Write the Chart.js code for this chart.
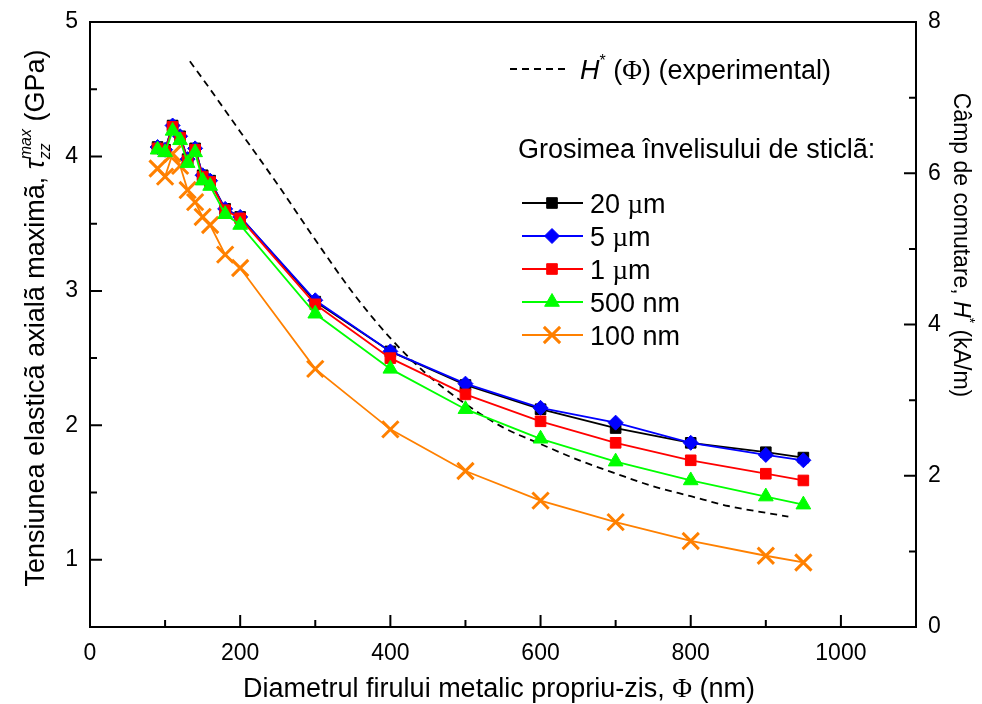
<!DOCTYPE html>
<html>
<head>
<meta charset="utf-8">
<script src="https://cdn.jsdelivr.net/npm/chart.js@4.4.1/dist/chart.umd.min.js"></script>
<style>
  html, body { margin: 0; padding: 0; background: #fff; }
  #wrap { width: 982px; height: 704px; }
</style>
</head>
<body>
<div id="wrap"><canvas id="chart" width="982" height="704"></canvas></div>
<script>
// Diameter of the metallic core (nm)
const diameters = [90, 100, 110, 120, 130, 140, 150, 160, 180, 200, 300, 400, 500, 600, 700, 800, 900, 950];

// Max axial elastic stress (GPa) per glass-coating thickness
const stress20um  = [4.07, 4.05, 4.23, 4.15, 3.98, 4.06, 3.86, 3.82, 3.61, 3.55, 2.92, 2.55, 2.30, 2.12, 1.98, 1.87, 1.80, 1.76];
const stress5um   = [4.07, 4.05, 4.23, 4.15, 3.98, 4.06, 3.86, 3.82, 3.61, 3.55, 2.93, 2.55, 2.31, 2.13, 2.02, 1.87, 1.78, 1.74];
const stress1um   = [4.06, 4.04, 4.22, 4.14, 3.97, 4.05, 3.85, 3.81, 3.60, 3.54, 2.90, 2.50, 2.23, 2.03, 1.87, 1.74, 1.64, 1.59];
const stress500nm = [4.05, 4.03, 4.19, 4.12, 3.95, 4.03, 3.82, 3.78, 3.57, 3.49, 2.83, 2.42, 2.12, 1.90, 1.73, 1.59, 1.47, 1.41];
const stress100nm = [3.91, 3.85, 4.02, 3.93, 3.75, 3.66, 3.55, 3.49, 3.27, 3.17, 2.42, 1.97, 1.66, 1.44, 1.28, 1.14, 1.03, 0.98];

// Experimental switching field H*(Phi), kA/m
const expDiameters = [133, 150, 200, 250, 300, 350, 400, 450, 500, 550, 600, 650, 700, 750, 800, 850, 900, 930];
const expField     = [7.48, 7.25, 6.55, 5.85, 5.12, 4.42, 3.82, 3.33, 2.95, 2.64, 2.42, 2.21, 2.03, 1.86, 1.73, 1.60, 1.51, 1.46];

// Axis ticks
const xTickValues = [0, 200, 400, 600, 800, 1000];
const xMinorValues = [100, 300, 500, 700, 900];
const yTickValues = [1, 2, 3, 4, 5];
const yMinorValues = [1.5, 2.5, 3.5, 4.5];
const y2TickValues = [0, 2, 4, 6, 8];
const y2MinorValues = [1, 3, 5, 7];

const seriesLabels = ['20 \u00b5m', '5 \u00b5m', '1 \u00b5m', '500 nm', '100 nm'];

const SANS = 'Liberation Sans, Arial, sans-serif';
const SERIF = 'Liberation Serif, Times New Roman, serif';
const BIG = 27;

function pts(xs, ys) {
    return xs.map((x, i) => ({ x: x, y: ys[i] }));
}

function series(label, ys, color, style, radius, order, pbw) {
    return {
        label: label,
        data: pts(diameters, ys),
        borderColor: color,
        backgroundColor: color,
        borderWidth: 1.8,
        pointStyle: style,
        pointRadius: radius,
        pointBackgroundColor: color,
        pointBorderColor: color,
        pointBorderWidth: pbw,
        yAxisID: 'y',
        order: order
    };
}

const datasets = [
    series(seriesLabels[0], stress20um, '#000000', 'rect', 7.5, 3, 1),
    series(seriesLabels[1], stress5um, '#0000ff', 'rectRot', 7.5, 2, 1),
    series(seriesLabels[2], stress1um, '#ff0000', 'rect', 7.5, 1, 1),
    series(seriesLabels[3], stress500nm, '#00ff00', 'triangle', 8.5, 0, 1),
    series(seriesLabels[4], stress100nm, '#ff8000', 'crossRot', 11.5, 4, 3),
    {
        label: 'H* (\u03a6) (experimental)',
        data: pts(expDiameters, expField),
        borderColor: '#000000',
        borderWidth: 1.8,
        borderDash: [7, 5],
        pointRadius: 0,
        cubicInterpolationMode: 'monotone',
        yAxisID: 'y2',
        order: 5
    }
];

// Text with italic letters, superscripts and subscripts
function drawRich(ctx, segs, x, y, align) {
    const widths = segs.map(s => {
        ctx.font = s.font;
        if (s.stack) return Math.max(ctx.measureText(s.stack[0]).width, ctx.measureText(s.stack[1]).width);
        return ctx.measureText(s.t).width;
    });
    const total = widths.reduce((a, b) => a + b, 0);
    let cx = align === 'center' ? x - total / 2 : x;
    ctx.textAlign = 'left';
    ctx.textBaseline = 'alphabetic';
    segs.forEach((s, i) => {
        ctx.font = s.font;
        if (s.stack) {
            ctx.fillText(s.stack[0], cx, y + s.dyTop);
            ctx.fillText(s.stack[1], cx, y + s.dyBot);
        } else {
            ctx.fillText(s.t, cx, y + (s.dy || 0));
        }
        cx += widths[i];
    });
}

const frameAndText = {
    id: 'frameAndText',
    afterDraw(chart) {
        const { ctx, chartArea: a, scales } = chart;
        ctx.save();
        ctx.strokeStyle = '#000';
        ctx.fillStyle = '#000';
        ctx.lineWidth = 2;
        ctx.strokeRect(a.left, a.top, a.right - a.left, a.bottom - a.top);

        // inward ticks
        ctx.beginPath();
        xTickValues.forEach(v => { const p = scales.x.getPixelForValue(v); ctx.moveTo(p, a.bottom); ctx.lineTo(p, a.bottom - 12); });
        xMinorValues.forEach(v => { const p = scales.x.getPixelForValue(v); ctx.moveTo(p, a.bottom); ctx.lineTo(p, a.bottom - 7); });
        yTickValues.forEach(v => { const p = scales.y.getPixelForValue(v); ctx.moveTo(a.left, p); ctx.lineTo(a.left + 12, p); });
        yMinorValues.forEach(v => { const p = scales.y.getPixelForValue(v); ctx.moveTo(a.left, p); ctx.lineTo(a.left + 7, p); });
        y2TickValues.forEach(v => { const p = scales.y2.getPixelForValue(v); ctx.moveTo(a.right, p); ctx.lineTo(a.right - 12, p); });
        y2MinorValues.forEach(v => { const p = scales.y2.getPixelForValue(v); ctx.moveTo(a.right, p); ctx.lineTo(a.right - 7, p); });
        ctx.stroke();

        // axis titles
        drawRich(ctx, [
            { t: 'Diametrul firului metalic propriu-zis, ', font: BIG + 'px ' + SANS },
            { t: '\u03a6', font: BIG + 'px ' + SERIF },
            { t: ' (nm)', font: BIG + 'px ' + SANS }
        ], 499, 697, 'center');

        ctx.save();
        ctx.translate(44, 318);
        ctx.rotate(-Math.PI / 2);
        drawRich(ctx, [
            { t: 'Tensiunea elastic\u00e3 axial\u00e3 maxim\u00e3, ', font: BIG + 'px ' + SANS },
            { t: '\u03c4', font: 'italic ' + BIG + 'px ' + SANS },
            { stack: ['max', 'zz'], font: 'italic 16px ' + SANS, dyTop: -13, dyBot: 6 },
            { t: ' (GPa)', font: BIG + 'px ' + SANS }
        ], 0, 0, 'center');
        ctx.restore();

        ctx.save();
        ctx.translate(954, 245);
        ctx.rotate(Math.PI / 2);
        drawRich(ctx, [
            { t: 'C\u00e2mp de comutare, ', font: '23px ' + SANS },
            { t: 'H', font: 'italic 23px ' + SANS },
            { t: '*', font: '14px ' + SANS, dy: -11 },
            { t: ' (kA/m)', font: '23px ' + SANS }
        ], 0, 0, 'center');
        ctx.restore();

        // legend
        const dsExp = chart.data.datasets[5];
        ctx.save();
        ctx.strokeStyle = dsExp.borderColor;
        ctx.lineWidth = dsExp.borderWidth;
        ctx.setLineDash(dsExp.borderDash);
        ctx.beginPath();
        ctx.moveTo(510, 69);
        ctx.lineTo(565, 69);
        ctx.stroke();
        ctx.restore();
        drawRich(ctx, [
            { t: 'H', font: 'italic ' + BIG + 'px ' + SANS },
            { t: '*', font: '16px ' + SANS, dy: -13 },
            { t: ' (', font: BIG + 'px ' + SANS },
            { t: '\u03a6', font: BIG + 'px ' + SERIF },
            { t: ') (experimental)', font: BIG + 'px ' + SANS }
        ], 580, 79, 'left');

        drawRich(ctx, [{ t: 'Grosimea \u00eenvelisului de sticl\u00e3:', font: BIG + 'px ' + SANS }], 518, 158, 'left');

        const rowY = [203, 236, 269, 302, 335];
        for (let i = 0; i < 5; i++) {
            const ds = chart.data.datasets[i];
            const y = rowY[i];
            ctx.save();
            ctx.strokeStyle = ds.borderColor;
            ctx.lineWidth = ds.borderWidth;
            ctx.beginPath();
            ctx.moveTo(522, y);
            ctx.lineTo(583, y);
            ctx.stroke();
            ctx.fillStyle = ds.pointBackgroundColor;
            ctx.strokeStyle = ds.pointBorderColor;
            ctx.lineWidth = ds.pointBorderWidth;
            Chart.helpers.drawPoint(ctx, {
                pointStyle: ds.pointStyle,
                radius: ds.pointRadius,
                borderWidth: ds.pointBorderWidth,
                rotation: 0
            }, 552, y);
            ctx.restore();
            ctx.fillStyle = '#000';
            const parts = ds.label.split('\u00b5');
            const segs = parts.length > 1
                ? [{ t: parts[0], font: BIG + 'px ' + SANS }, { t: '\u00b5', font: BIG + 'px ' + SERIF }, { t: parts[1], font: BIG + 'px ' + SANS }]
                : [{ t: ds.label, font: BIG + 'px ' + SANS }];
            drawRich(ctx, segs, 590, y + 10, 'left');
        }
        ctx.restore();
    }
};

const tickFont = { family: SANS, size: 23 };
const plainLabel = v => String(v);

new Chart(document.getElementById('chart'), {
    type: 'line',
    data: { datasets: datasets },
    options: {
        responsive: false,
        animation: false,
        layout: { padding: { top: 22, left: 0, right: 0, bottom: 0 } },
        plugins: { legend: { display: false }, tooltip: { enabled: false } },
        elements: { line: { tension: 0 } },
        scales: {
            x: {
                type: 'linear', min: 0, max: 1100,
                grid: { display: false }, border: { display: false },
                ticks: { font: tickFont, color: '#000', padding: 5, callback: plainLabel },
                afterBuildTicks: s => { s.ticks = xTickValues.map(v => ({ value: v })); },
                afterFit: s => { s.height = 77; }
            },
            y: {
                position: 'left', min: 0.5, max: 5,
                grid: { display: false }, border: { display: false },
                ticks: { font: tickFont, color: '#000', padding: 4, callback: plainLabel },
                afterBuildTicks: s => { s.ticks = yTickValues.map(v => ({ value: v })); },
                afterFit: s => { s.width = 90; }
            },
            y2: {
                position: 'right', min: 0, max: 8,
                grid: { display: false }, border: { display: false },
                ticks: { font: tickFont, color: '#000', padding: 4, callback: plainLabel },
                afterBuildTicks: s => { s.ticks = y2TickValues.map(v => ({ value: v })); },
                afterFit: s => { s.width = 66; }
            }
        }
    },
    plugins: [frameAndText]
});
</script>
</body>
</html>
